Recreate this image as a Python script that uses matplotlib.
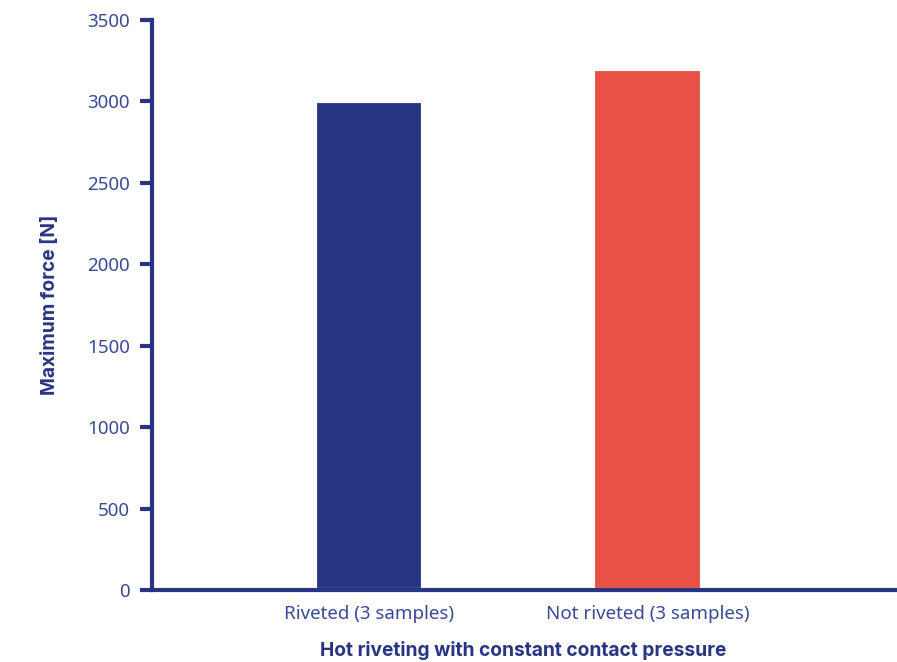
import matplotlib.pyplot as plt

categories = ['Riveted (3 samples)', 'Not riveted (3 samples)']
max_force = [3000, 3200]
bar_colors = ['#283583', '#E95147']
yticks = [0, 500, 1000, 1500, 2000, 2500, 3000, 3500]

navy = '#283583'
plt.rcParams['font.family'] = ['Noto Sans', 'DejaVu Sans']
bold_font = ['Inter', 'DejaVu Sans']

fig = plt.figure(figsize=(8.97, 6.62), dpi=100)
ax = fig.add_axes([0.1695, 0.1088, 0.8285, 0.861])

x = list(range(len(categories)))
ax.bar(x, max_force, width=0.39, color=bar_colors, edgecolor='white', linewidth=3, zorder=2)

ax.set_xlim(-0.78, 1.89)
ax.set_ylim(0, 3500)
ax.set_yticks(yticks)
ax.set_xticks(x)
ax.set_xticklabels(categories)

for side in ['top', 'right']:
    ax.spines[side].set_visible(False)
for side in ['left', 'bottom']:
    ax.spines[side].set_color(navy)
    ax.spines[side].set_linewidth(3)
    ax.spines[side].set_zorder(3)

ax.tick_params(axis='y', colors=navy, length=9, width=3, labelsize=13.5, pad=7)
ax.tick_params(axis='x', colors=navy, length=0, labelsize=13.5, pad=11)
for lbl in ax.get_xticklabels() + ax.get_yticklabels():
    lbl.set_color('#3a4a94')

ax.set_ylabel('Maximum force [N]', color=navy, fontsize=13.8, fontweight='bold',
              family=bold_font, labelpad=20)
ax.set_xlabel('Hot riveting with constant contact pressure', color=navy, fontsize=13.8,
              fontweight='bold', family=bold_font, labelpad=13)

fig.savefig('out.png', dpi=100)
